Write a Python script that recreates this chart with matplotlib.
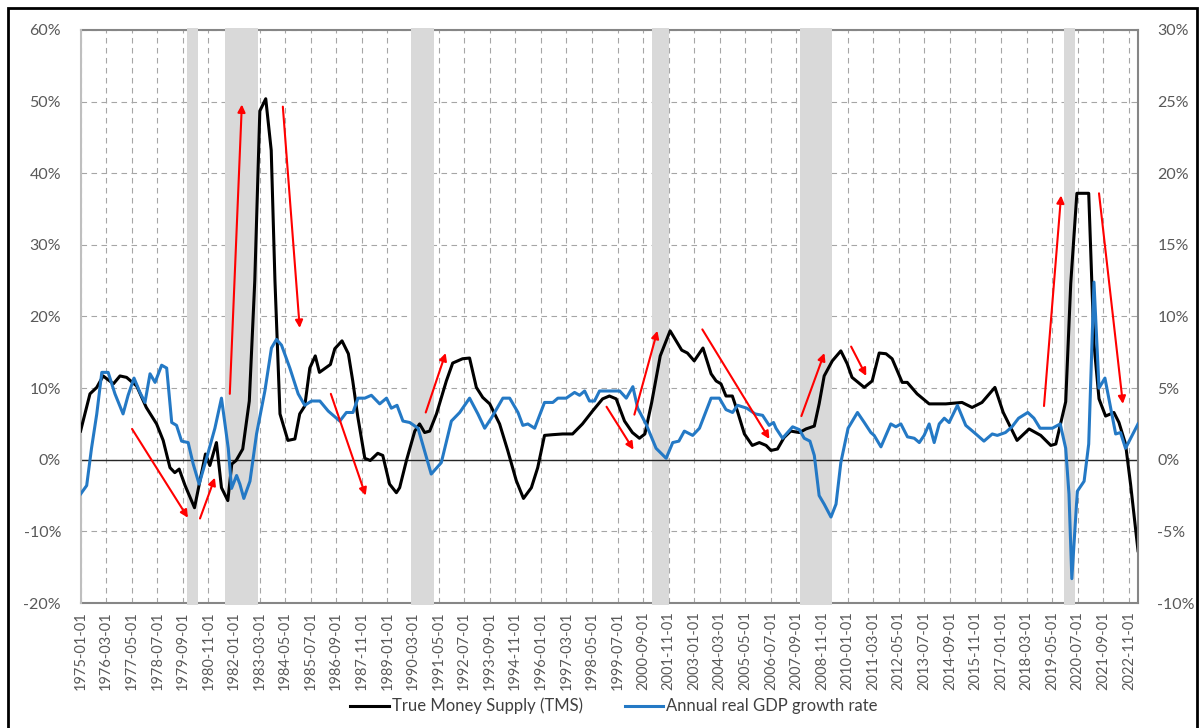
import matplotlib
matplotlib.use('Agg')
import matplotlib.pyplot as plt
from matplotlib.patches import Rectangle

plt.rcParams['font.family'] = ['Lato', 'DejaVu Sans']

# x tick labels (every 14 months)
tick_labels = [
    '1975-01-01', '1976-03-01', '1977-05-01', '1978-07-01', '1979-09-01', '1980-11-01',
    '1982-01-01', '1983-03-01', '1984-05-01', '1985-07-01', '1986-09-01', '1987-11-01',
    '1989-01-01', '1990-03-01', '1991-05-01', '1992-07-01', '1993-09-01', '1994-11-01',
    '1996-01-01', '1997-03-01', '1998-05-01', '1999-07-01', '2000-09-01', '2001-11-01',
    '2003-01-01', '2004-03-01', '2005-05-01', '2006-07-01', '2007-09-01', '2008-11-01',
    '2010-01-01', '2011-03-01', '2012-05-01', '2013-07-01', '2014-09-01', '2015-11-01',
    '2017-01-01', '2018-03-01', '2019-05-01', '2020-07-01', '2021-09-01', '2022-11-01',
]

# recessions (start, end) in decimal years
recessions = [(1979.85, 1980.36), (1981.59, 1983.09), (1990.09, 1991.13),
              (2001.08, 2001.85), (2007.82, 2009.30), (2019.87, 2020.37)]

# True Money Supply, YoY % (left axis)
tms_x = [1975.00, 1975.43, 1975.74, 1976.03, 1976.50, 1976.80, 1977.10, 1977.56, 1978.00,
         1978.47, 1978.77, 1979.08, 1979.30, 1979.50, 1979.77, 1980.20, 1980.45, 1980.70,
         1980.90, 1981.20, 1981.43, 1981.72, 1981.90, 1982.10, 1982.40, 1982.70, 1982.95,
         1983.18, 1983.45, 1983.70, 1983.87, 1984.10, 1984.46, 1984.78, 1985.00, 1985.23,
         1985.46, 1985.71, 1985.90, 1986.40, 1986.60, 1986.93, 1987.22, 1987.42, 1987.65,
         1987.97, 1988.22, 1988.56, 1988.79, 1989.10, 1989.41, 1989.56, 1989.87, 1990.25,
         1990.47, 1990.70, 1990.93, 1991.24, 1991.69, 1991.98, 1992.43, 1992.75, 1993.06,
         1993.35, 1993.67, 1994.12, 1994.49, 1994.88, 1995.21, 1995.57, 1995.86, 1996.17,
         1996.54, 1997.00, 1997.45, 1997.90, 1998.36, 1998.82, 1999.13, 1999.44, 1999.82,
         2000.18, 2000.50, 2000.75, 2001.06, 2001.45, 2001.90, 2002.43, 2002.69, 2003.00,
         2003.40, 2003.77, 2004.00, 2004.22, 2004.45, 2004.74, 2004.97, 2005.29, 2005.65,
         2005.97, 2006.28, 2006.50, 2006.80, 2007.10, 2007.40, 2007.80, 2008.10, 2008.48,
         2008.70, 2008.93, 2009.30, 2009.69, 2009.98, 2010.20, 2010.76, 2011.12, 2011.44,
         2011.75, 2012.03, 2012.49, 2012.72, 2013.17, 2013.72, 2014.48, 2015.22, 2015.68,
         2016.13, 2016.72, 2017.10, 2017.73, 2018.28, 2018.81, 2019.27, 2019.50, 2019.95,
         2020.18, 2020.46, 2021.00, 2021.24, 2021.47, 2021.77, 2022.15, 2022.38, 2022.68,
         2022.91, 2023.25]
tms_y = [4.0, 9.2, 10.1, 11.7, 10.6, 11.7, 11.5, 10.3, 7.3,
         5.0, 2.7, -1.1, -1.8, -1.3, -3.6, -6.7, -2.9, 0.8,
         -0.8, 2.4, -3.9, -5.7, -0.6, -0.1, 1.5, 8.2, 25.0,
         48.7, 50.4, 43.2, 25.0, 6.4, 2.7, 2.9, 6.4, 7.5,
         12.8, 14.5, 12.2, 13.3, 15.5, 16.6, 14.8, 11.0, 6.0,
         0.2, -0.1, 0.9, 0.6, -3.4, -4.6, -3.9, -0.1, 4.0,
         5.0, 3.8, 4.0, 6.4, 11.0, 13.5, 14.1, 14.2, 10.1,
         8.7, 7.8, 5.0, 1.3, -2.9, -5.4, -3.9, -1.1, 3.4,
         3.5, 3.6, 3.6, 5.0, 6.8, 8.5, 8.9, 8.5, 5.4,
         3.8, 3.0, 3.6, 8.0, 14.5, 18.0, 15.3, 14.9, 13.8,
         15.6, 12.0, 11.0, 10.6, 8.9, 8.9, 6.8, 3.6, 2.0,
         2.4, 2.0, 1.3, 1.5, 3.1, 4.0, 3.8, 4.3, 4.7,
         7.8, 11.7, 13.8, 15.2, 13.4, 11.5, 10.1, 11.0, 14.9,
         14.8, 14.1, 10.8, 10.8, 9.2, 7.8, 7.8, 8.0, 7.3,
         8.0, 10.1, 6.6, 2.7, 4.3, 3.4, 2.0, 2.2, 8.1,
         24.6, 37.2, 37.2, 16.2, 8.5, 6.1, 6.6, 5.2, 2.2,
         -3.4, -12.7]

# Annual real GDP growth, % (right axis)
gdp_x = [1975.00, 1975.28, 1975.50, 1975.74, 1975.97, 1976.26, 1976.57, 1976.94, 1977.17,
         1977.44, 1977.71, 1977.94, 1978.17, 1978.40, 1978.70, 1978.93, 1979.16, 1979.38,
         1979.61, 1979.91, 1980.14, 1980.41, 1980.75, 1981.13, 1981.43, 1981.74, 1981.89,
         1982.12, 1982.27, 1982.45, 1982.73, 1983.03, 1983.41, 1983.71, 1983.94, 1984.17,
         1984.55, 1984.93, 1985.23, 1985.54, 1985.92, 1986.30, 1986.83, 1987.13, 1987.43,
         1987.66, 1987.97, 1988.27, 1988.65, 1988.96, 1989.18, 1989.44, 1989.71, 1990.02,
         1990.40, 1990.70, 1991.00, 1991.46, 1991.92, 1992.30, 1992.75, 1993.13, 1993.44,
         1993.74, 1994.27, 1994.58, 1994.96, 1995.18, 1995.41, 1995.72, 1996.17, 1996.55,
         1996.78, 1997.16, 1997.54, 1997.77, 1998.00, 1998.22, 1998.45, 1998.68, 1999.13,
         1999.60, 1999.90, 2000.20, 2000.42, 2000.80, 2001.26, 2001.72, 2002.02, 2002.30,
         2002.55, 2002.93, 2003.24, 2003.54, 2003.77, 2004.15, 2004.45, 2004.75, 2004.98,
         2005.40, 2005.78, 2006.12, 2006.42, 2006.62, 2006.73, 2007.03, 2007.49, 2007.80,
         2008.02, 2008.28, 2008.48, 2008.70, 2008.93, 2009.24, 2009.47, 2009.69, 2010.02,
         2010.45, 2010.76, 2011.06, 2011.21, 2011.52, 2011.97, 2012.20, 2012.43, 2012.73,
         2013.04, 2013.27, 2013.49, 2013.72, 2013.95, 2014.18, 2014.41, 2014.63, 2015.01,
         2015.39, 2015.85, 2016.22, 2016.60, 2016.83, 2017.20, 2017.50, 2017.80, 2018.22,
         2018.50, 2018.78, 2019.10, 2019.34, 2019.70, 2019.95, 2020.10, 2020.23, 2020.48,
         2020.79, 2021.00, 2021.24, 2021.47, 2021.74, 2022.23, 2022.45, 2022.68, 2023.25]
gdp_y = [-2.4, -1.8, 0.8, 3.2, 6.1, 6.1, 4.6, 3.2, 4.5,
         5.7, 4.7, 4.0, 6.0, 5.4, 6.6, 6.4, 2.6, 2.4,
         1.3, 1.2, -0.3, -1.7, 0.1, 2.2, 4.3, 0.8, -2.0,
         -1.1, -1.7, -2.7, -1.5, 1.8, 4.8, 7.8, 8.4, 8.0,
         6.4, 4.6, 3.8, 4.1, 4.1, 3.4, 2.7, 3.3, 3.3,
         4.3, 4.3, 4.5, 3.9, 4.3, 3.6, 3.8, 2.7, 2.6,
         2.2, 0.6, -1.0, -0.2, 2.7, 3.3, 4.3, 3.2, 2.2,
         2.9, 4.3, 4.3, 3.3, 2.4, 2.5, 2.2, 4.0, 4.0,
         4.3, 4.3, 4.7, 4.5, 4.8, 4.1, 4.1, 4.8, 4.8,
         4.8, 4.3, 5.1, 3.6, 2.5, 0.8, 0.1, 1.2, 1.3,
         2.0, 1.7, 2.2, 3.4, 4.3, 4.3, 3.5, 3.3, 3.8,
         3.6, 3.2, 3.1, 2.4, 2.6, 2.2, 1.5, 2.3, 2.1,
         1.5, 1.3, 0.3, -2.5, -3.1, -4.0, -3.1, -0.2, 2.2,
         3.3, 2.6, 1.9, 1.7, 0.9, 2.5, 2.3, 2.5, 1.6,
         1.5, 1.2, 1.7, 2.5, 1.2, 2.5, 2.9, 2.6, 3.8,
         2.4, 1.8, 1.3, 1.8, 1.7, 1.9, 2.3, 2.9, 3.3,
         2.9, 2.2, 2.2, 2.2, 2.5, 0.8, -2.4, -8.3, -2.2,
         -1.5, 1.1, 12.4, 5.0, 5.7, 1.8, 1.9, 0.8, 2.5]

# red annotation arrows: (start, end) in (year, left-axis %)
arrows = [
    ((1977.35, 4.3), (1979.90, -8.1)),
    ((1980.45, -8.2), (1981.13, -2.5)),
    ((1981.81, 9.2), (1982.36, 49.6)),
    ((1984.23, 49.3), (1985.00, 18.4)),
    ((1986.42, 9.2), (1988.01, -5.0)),
    ((1990.75, 6.6), (1991.66, 14.9)),
    ((1999.00, 7.4), (2000.23, 1.4)),
    ((2000.27, 6.3), (2001.32, 18.0)),
    ((2003.37, 18.2), (2006.43, 2.9)),
    ((2007.89, 6.1), (2008.94, 14.9)),
    ((2010.16, 15.8), (2010.85, 11.7)),
    ((2018.96, 7.5), (2019.74, 36.9)),
    ((2021.47, 37.2), (2022.56, 7.8)),
]

left_ticks = [-20, -10, 0, 10, 20, 30, 40, 50, 60]
right_ticks = [-10, -5, 0, 5, 10, 15, 20, 25, 30]

grey_txt = '#595959'
grid_col = '#A6A6A6'
axis_col = '#868686'

fig = plt.figure(figsize=(12.04, 7.28), dpi=100)
ax = fig.add_axes([0.0669, 0.1717, 0.8783, 0.7871])
ax2 = ax.twinx()

tick_pos = [int(s[:4]) + (int(s[5:7]) - 1) / 12 for s in tick_labels]

ax.set_xlim(1975.0, 2023.25)
ax.set_ylim(-20, 60)
ax2.set_ylim(-10, 30)

ax.set_xticks(tick_pos)
ax.set_xticklabels(tick_labels, rotation=90, fontsize=10.5, color=grey_txt)
ax.set_yticks(left_ticks)
ax.set_yticklabels([f'{v}%' for v in left_ticks], fontsize=11.5, color=grey_txt)
ax2.set_yticks(right_ticks)
ax2.set_yticklabels([f'{v}%' for v in right_ticks], fontsize=11.5, color=grey_txt)

ax.tick_params(axis='x', length=0, pad=6)
ax.tick_params(axis='y', length=0, pad=14)
ax2.tick_params(axis='y', length=0, pad=14)

ax.grid(True, color=grid_col, linestyle=(0, (5, 4)), linewidth=0.8)
ax.set_axisbelow(True)

for s in ['top', 'bottom', 'right']:
    ax.spines[s].set_visible(False)
for s in ['top', 'bottom', 'left']:
    ax2.spines[s].set_visible(False)
ax.spines['left'].set_color('#BFBFBF')
ax.spines['left'].set_linewidth(1.5)
ax2.spines['right'].set_color(axis_col)
ax2.spines['right'].set_linewidth(1.5)

ax.axhline(60, color=axis_col, lw=1.5, zorder=0.8, clip_on=False)
ax.axhline(-20, color=axis_col, lw=1.5, zorder=0.8, clip_on=False)

for a, b in recessions:
    ax.axvspan(a, b, ymin=-0.004, ymax=1.004, color='#D9D9D9', lw=0, zorder=1, clip_on=False)

ax.axhline(0, color='#262626', lw=1.0, zorder=2)

ax.plot(tms_x, tms_y, color='black', lw=2.2, zorder=3, label='True Money Supply (TMS)')
ax2.plot(gdp_x, gdp_y, color='#2479C5', lw=2.2, zorder=3, label='Annual real GDP growth rate')

for (x0, y0), (x1, y1) in arrows:
    ax2.annotate('', xy=(x1, y1), xytext=(x0, y0),
                 xycoords=ax.transData, textcoords=ax.transData,
                 arrowprops=dict(arrowstyle='-|>', color='#FF0000', lw=1.5,
                                 mutation_scale=11, shrinkA=0, shrinkB=0))

h1, l1 = ax.get_legend_handles_labels()
h2, l2 = ax2.get_legend_handles_labels()
fig.legend(h1 + h2, l1 + l2, loc='center', bbox_to_anchor=(0.51, 0.03), ncol=2,
           frameon=False, fontsize=12, handlelength=2.3, handletextpad=0.2,
           columnspacing=2.5, labelcolor='#404040')

fig.patches.append(Rectangle((8 / 1204, -0.02), 1189 / 1204, 1.02 - 8 / 728,
                             transform=fig.transFigure, fill=False,
                             edgecolor='black', lw=2))

fig.savefig('out.png', dpi=100)
